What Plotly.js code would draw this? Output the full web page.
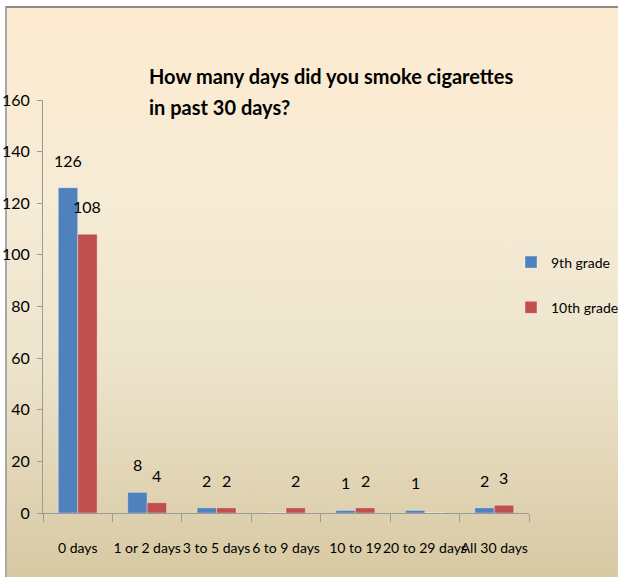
<!DOCTYPE html>
<html>
<head>
<meta charset="utf-8">
<script src="https://cdn.plot.ly/plotly-3.0.1.min.js"></script>
<style>
  html, body { margin: 0; padding: 0; background: #ffffff; }
  #frame {
    position: absolute; left: 5px; top: 6px; width: 613px; height: 571px;
    border-top: 2px solid #8c8c8c; border-left: 2px solid #a8a8a8;
    background: linear-gradient(to bottom, #FDEBD0 0%, #F6EBD5 35%, #EEE5CE 60%, #D8C9A3 100%);
    box-sizing: border-box;
  }
  #chart { position: absolute; left: 0; top: 0; width: 618px; height: 577px; }
</style>
</head>
<body>
<div id="frame"></div>
<div id="chart"></div>
<script>
const categories = ["0 days", "1 or 2 days", "3 to 5 days", "6 to 9 days", "10 to 19", "20 to 29 days", "All 30 days"];
const grade9 = [126, 8, 2, 0, 1, 1, 2];
const grade10 = [108, 4, 2, 2, 2, 0, 3];
const seriesNames = ["9th grade", "10th grade"];
const titleLine1 = "How many days did you smoke cigarettes";
const titleLine2 = "in past 30 days?";
const yTicks = [0, 20, 40, 60, 80, 100, 120, 140, 160];

const FONT = "Lato, 'Noto Sans', sans-serif";

const traces = [
  {type: "bar", name: seriesNames[0], x: categories, y: grade9, legendgroup: "a",
   marker: {color: "#4F81BD", line: {color: "rgba(255,255,255,0.35)", width: 1}}},
  {type: "bar", name: seriesNames[1], x: categories, y: grade10, legendgroup: "b",
   marker: {color: "#C0504D", line: {color: "rgba(255,255,255,0.35)", width: 1}}}
];

const annotations = [];
const seriesList = [grade9, grade10];
const shifts = [-9.7, 9.7];
seriesList.forEach((vals, s) => {
  vals.forEach((v, i) => {
    if (v === 0) return;
    annotations.push({x: categories[i], y: v, xref: "x", yref: "y", text: String(v),
      showarrow: false, xshift: shifts[s], yshift: 16, yanchor: "bottom",
      font: {family: FONT, size: 16, color: "#000"}});
  });
});
annotations.push({text: "<b>" + titleLine2 + "</b>", xref: "paper", yref: "paper",
  x: (148 - 43) / 486, xanchor: "left", y: (513 - 107) / 413, yanchor: "middle",
  showarrow: false, borderpad: 0, font: {family: FONT, size: 20, color: "#000"}});

const layout = {
  width: 618, height: 577,
  paper_bgcolor: "rgba(0,0,0,0)", plot_bgcolor: "rgba(0,0,0,0)",
  margin: {l: 43, r: 89, t: 100, b: 64, autoexpand: false},
  title: {text: "<b>" + titleLine1 + "</b>", xref: "container", yref: "container",
    x: 149 / 618, xanchor: "left", y: 1 - 77 / 577, yanchor: "middle",
    font: {family: FONT, size: 20, color: "#000"}},
  barmode: "group", bargap: 0.44, bargroupgap: 0,
  showlegend: true,
  legend: {x: (511 - 43) / 486, xanchor: "left", y: 0.552, yanchor: "middle", tracegroupgap: 24,
    bgcolor: "rgba(0,0,0,0)", font: {family: FONT, size: 14, color: "#000"}},
  xaxis: {type: "category", tickangle: 0, showline: true, linecolor: "#9a9a9a", linewidth: 1,
    ticks: "outside", tickson: "boundaries", ticklen: 8, tickcolor: "#9a9a9a",
    ticklabelstandoff: 22, tickfont: {family: FONT, size: 14, color: "#000"},
    showgrid: false, zeroline: false, fixedrange: true, automargin: false},
  yaxis: {range: [0, 160], tickvals: yTicks, showline: true, linecolor: "#9a9a9a", linewidth: 1,
    ticks: "outside", ticklen: 5, tickcolor: "#9a9a9a", ticklabelstandoff: 4,
    tickfont: {family: FONT, size: 16, color: "#000"},
    showgrid: false, zeroline: false, fixedrange: true, automargin: false},
  annotations: annotations
};

Plotly.newPlot("chart", traces, layout, {displayModeBar: false, staticPlot: true});
</script>
</body>
</html>
